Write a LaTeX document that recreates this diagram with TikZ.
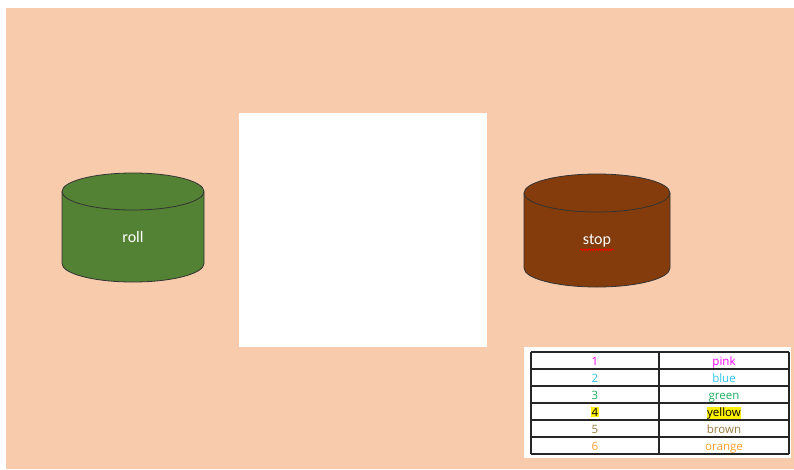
\documentclass[tikz,border=0pt]{standalone}
\usepackage{fontspec}
\setmainfont{Carlito}
\newfontfamily\tablefont{Open Sans}
\usetikzlibrary{calc,positioning,decorations.pathmorphing}
\definecolor{peach}{HTML}{F8CBAD}
\definecolor{rollgreen}{HTML}{548235}
\definecolor{stopbrown}{HTML}{843C0C}
\definecolor{tpink}{HTML}{FF00FF}
\definecolor{tblue}{HTML}{33C3F5}
\definecolor{tgreen}{HTML}{1FB060}
\definecolor{tbrown}{HTML}{9A7B3E}
\definecolor{torange}{HTML}{FF9F30}
\begin{document}
\begin{tikzpicture}[x=1pt,y=-1pt,
    drum/.style={draw=black!80,line width=0.8pt},
    drumtext/.style={text=white,font=\fontsize{16}{18}\selectfont},
    cell/.style={font=\tablefont\fontsize{11.5}{12}\selectfont,inner sep=0.6pt,anchor=base},
    rule/.style={draw=black!85,line width=1.4pt}]
                \useasboundingbox (0,0) rectangle (794,469);
                %Background
                \fill[white] (0,0) rectangle (794,469);
                \fill[peach] (6,8) rectangle (794,469);
                \fill[white] (239,113) rectangle (487,347);
                %Roll drum
                \def\cx{133} \def\rx{71} \def\ry{18.5}
                \coordinate (rtop) at (\cx,191.5);
                \coordinate (rbot) at (\cx,263.5);
                \filldraw[drum,fill=rollgreen] ($(rtop)+(-\rx,0)$) -- ($(rbot)+(-\rx,0)$)
                    arc[start angle=180,end angle=0,x radius=\rx,y radius=\ry] -- ($(rtop)+(\rx,0)$);
                \filldraw[drum,fill=rollgreen] (rtop) ellipse[x radius=\rx,y radius=\ry];
                \node[drumtext] (roll) at (\cx,237) {roll};
                %Stop drum
                \def\cx{597} \def\rx{73} \def\ry{19}
                \coordinate (stop) at (\cx,193);
                \coordinate (sbot) at (\cx,268);
                \filldraw[drum,fill=stopbrown] ($(stop)+(-\rx,0)$) -- ($(sbot)+(-\rx,0)$)
                    arc[start angle=180,end angle=0,x radius=\rx,y radius=\ry] -- ($(stop)+(\rx,0)$);
                \filldraw[drum,fill=stopbrown] (stop) ellipse[x radius=\rx,y radius=\ry];
                \node[drumtext] (stoptext) at (\cx,241) {stop};
                \draw[red,line width=0.7pt,decorate,
                    decoration={snake,amplitude=0.9pt,segment length=2.6pt}]
                    ($(stoptext.base west)+(1,5)$) -- ($(stoptext.base east)+(-1,5)$);
                %Table
                \fill[white] (524,347) rectangle (791,458);
                \foreach \i/\num/\word/\col in {0/1/pink/tpink,1/2/blue/tblue,2/3/green/tgreen,
                        3/4/yellow/black,4/5/brown/tbrown,5/6/orange/torange}{
                    \pgfmathsetmacro\yc{365+17*\i}
                    \ifnum\i=3
                        \node[cell,text=\col,fill=yellow] (n\i) at (595,\yc) {\num};
                        \node[cell,text=\col,fill=yellow] (c\i) at (724,\yc) {\word};
                    \else
                        \node[cell,text=\col] (n\i) at (595,\yc) {\num};
                        \node[cell,text=\col] (c\i) at (724,\yc) {\word};
                    \fi
                }
                \foreach \i in {0,...,6}{
                    \draw[rule] (531,352+17*\i) -- (789,352+17*\i);
                }
                \draw[rule] (531,352) -- (531,454);
                \draw[rule] (659,352) -- (659,454);
                \draw[rule] (789,352) -- (789,454);
            \end{tikzpicture}
\end{document}
